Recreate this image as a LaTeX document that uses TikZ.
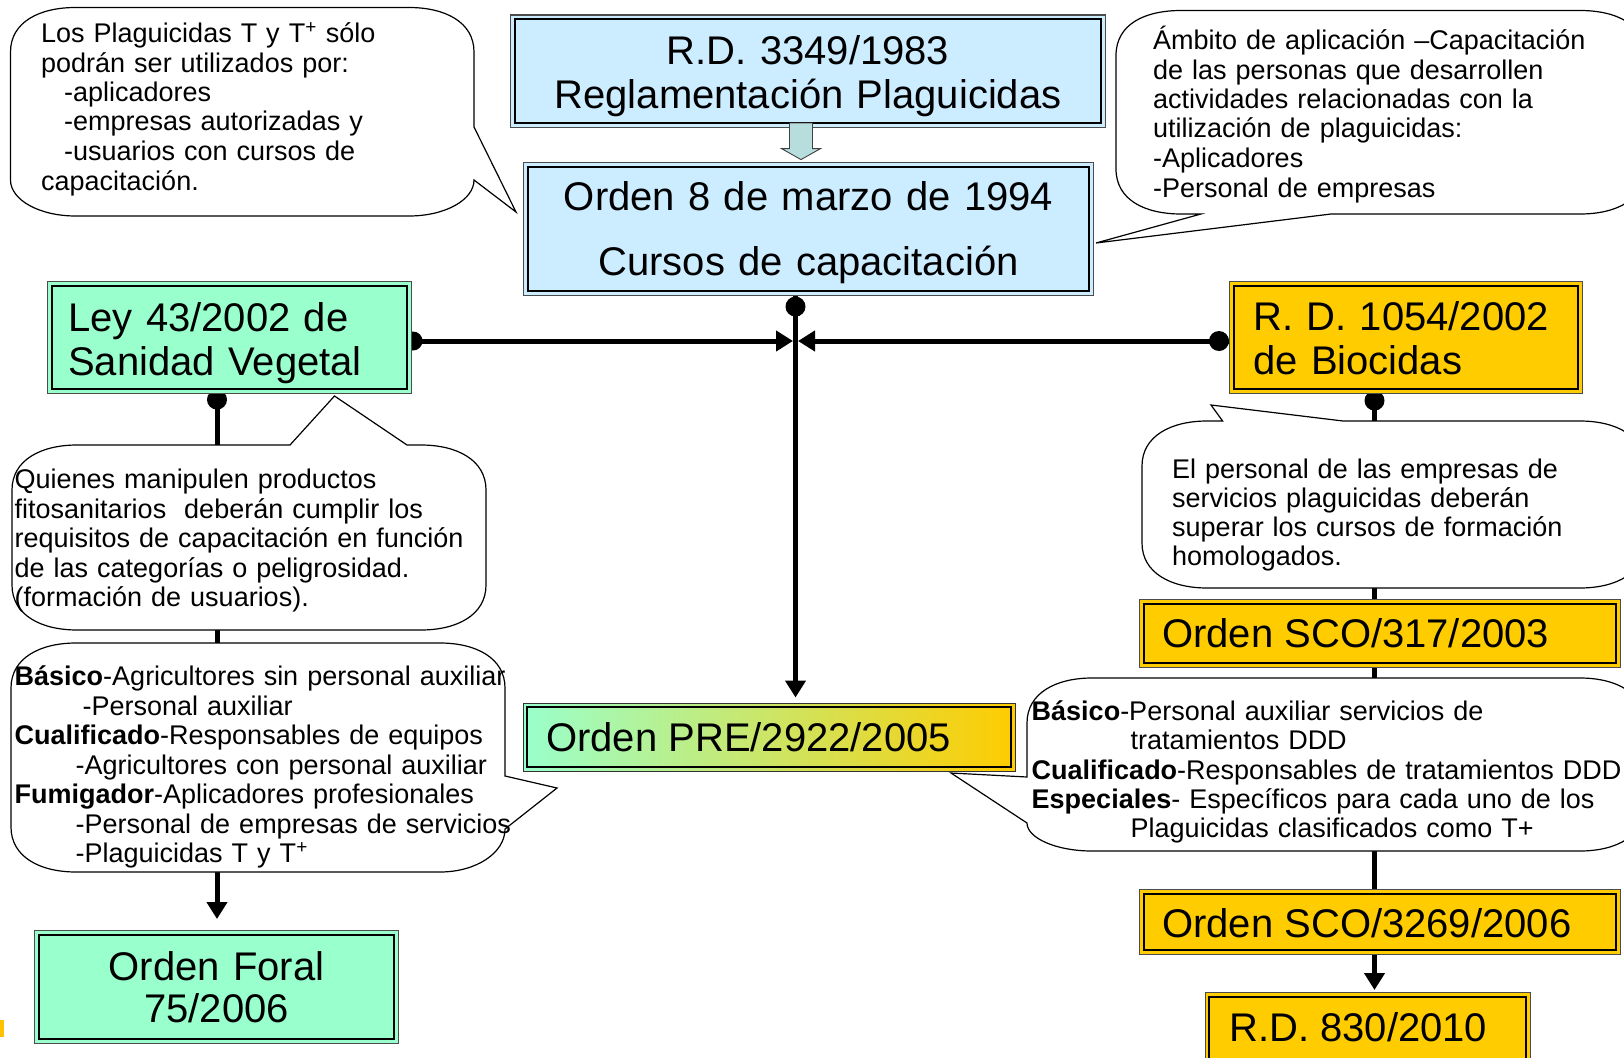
\documentclass[tikz,border=0pt]{standalone}
\usepackage{fontspec}
\setmainfont{Liberation Sans}
\usetikzlibrary{arrows.meta,calc}
\pgfdeclarelayer{bg}
\pgfsetlayers{bg,main}
\definecolor{lblue}{HTML}{CCECFF}
\definecolor{mint}{HTML}{99FFCC}
\definecolor{gold}{HTML}{FFCC00}
\definecolor{barrow}{RGB}{183,221,221}
\tikzset{
  innerline/.style={path picture={\draw[line width=2pt, black]
     ($(path picture bounding box.north west)+(4,4)$) rectangle
     ($(path picture bounding box.south east)+(-4,-4)$);}},
  box/.style={rectangle, draw=black!70, line width=1.2pt, fill=#1, inner sep=0pt, innerline},
  prebox/.style={rectangle, draw=black!80, line width=1.2pt, left color=mint, right color=gold, inner sep=0pt, innerline},
  conn/.style={line width=5pt, black},
  tip/.style={-{Triangle[width=20pt,length=17pt]}},
  callout/.style={draw=black, line width=1.2pt, fill=white},
  ctext/.style={font=\fontsize{27}{29.5}\selectfont, align=left, text width=620pt, inner sep=0pt, anchor=base west},
  btext/.style={font=\fontsize{40}{44}\selectfont, inner sep=0pt},
  blockarrow/.style={fill=barrow, draw=black!75, line width=0.9pt, line join=miter}
}
\begin{document}
\begin{tikzpicture}[x=1pt,y=-1pt]
\useasboundingbox (0,0) rectangle (1624,1057);
\begin{scope}
\clip (0,0) rectangle (1624,1057);

% ---------- boxes ----------
\node[box=lblue, minimum width=594.8pt, minimum height=112.3pt] (rd) at (808,71.25) {};
\node[box=lblue, minimum width=569.8pt, minimum height=132.8pt] (o94) at (808.5,229) {};
\node[box=mint, minimum width=363.8pt, minimum height=111.8pt] (ley) at (229.5,337.5) {};
\node[box=gold, minimum width=352.8pt, minimum height=111.8pt] (rdb) at (1406,337.5) {};
\node[box=mint, minimum width=363.8pt, minimum height=112.8pt] (foral) at (216.5,987) {};
\node[prebox, minimum width=492.3pt, minimum height=68.3pt] (pre) at (769.25,737.25) {};
\node[box=gold, minimum width=480.8pt, minimum height=67.8pt] (sco1) at (1380,633.5) {};
\node[box=gold, minimum width=480.8pt, minimum height=64.8pt] (sco2) at (1380,922) {};
\node[box=gold, minimum width=325.3pt, minimum height=86.8pt] (rd830) at (1367.75,1036) {};

% ---------- box texts ----------
\node[btext, align=center, text width=590pt, anchor=base] (rd-t) at (808,64.5) {R.D. 3349/1983\\Reglamentación Plaguicidas};
\node[btext, font=\fontsize{40}{65}\selectfont, align=center, text width=565pt, anchor=base] (o94-t) at (808.5,210) {Orden 8 de marzo de 1994\\Cursos de capacitación};
\node[btext, align=left, text width=330pt, anchor=base west] (ley-t) at (68,331) {Ley 43/2002 de\\Sanidad Vegetal};
\node[btext, align=left, text width=330pt, anchor=base west] (rdb-t) at (1253,330) {R. D. 1054/2002\\de Biocidas};
\node[btext, font=\fontsize{40}{42}\selectfont, align=center, text width=359pt, anchor=base] (foral-t) at (216.5,980) {Orden Foral\\75/2006};
\node[btext, anchor=base west] (pre-t) at (546,751) {Orden PRE/2922/2005};
\node[btext, anchor=base west] (sco1-t) at (1162,647) {Orden SCO/317/2003};
\node[btext, anchor=base west] (sco2-t) at (1162,937) {Orden SCO/3269/2006};
\node[btext, anchor=base west] (rd830-t) at (1229,1041) {R.D. 830/2010};

% ---------- block arrow ----------
\draw[blockarrow] ($(rd.south)+(-18.5,-5)$) -- ++(23,0) -- ++(0,25.6) -- ++(8,0) -- ++(-19.5,11) -- ++(-19.5,-11) -- ++(8,0) -- cycle;

% ---------- callouts ----------
% A top-left
\draw[callout] (75.5,7.5) -- (409,7.5) .. controls (445,7.5) and (474,22) .. (474,52) -- (474,127) -- (516,212) -- (474,180) .. controls (474,200) and (445,216) .. (409,216) -- (75.5,216) .. controls (39.5,216) and (10.5,200) .. (10.5,180) -- (10.5,52) .. controls (10.5,22) and (39.5,7.5) .. (75.5,7.5) -- cycle;
\node[ctext] (ta) at (41,42.5) {Los Plaguicidas T y T\textsuperscript{+} sólo\\
podrán ser utilizados por:\\
\hspace*{23pt}-aplicadores\\
\hspace*{23pt}-empresas autorizadas y\\
\hspace*{23pt}-usuarios con cursos de\\
capacitación.};

% B top-right
\draw[callout] (1181,10.5) -- (1580,10.5) .. controls (1616,10.5) and (1645,24) .. (1645,55.5) -- (1645,169) .. controls (1645,200) and (1616,214) .. (1580,214) -- (1331,214) -- (1096,243) -- (1201,214) -- (1181,214) .. controls (1145,214) and (1116,200) .. (1116,169) -- (1116,55.5) .. controls (1116,24) and (1145,10.5) .. (1181,10.5) -- cycle;
\node[ctext] (tb) at (1153,49.5) {Ámbito de aplicación –Capacitación\\
de las personas que desarrollen\\
actividades relacionadas con la\\
utilización de plaguicidas:\\
-Aplicadores\\
-Personal de empresas};

% C ley callout
\draw[callout] (77,445) -- (290,445) -- (334.5,396) -- (407,445) -- (421,445) .. controls (457,445) and (486,460) .. (486,490) -- (486,585) .. controls (486,615) and (457,630) .. (421,630) -- (77,630) .. controls (41,630) and (12,615) .. (12,585) -- (12,490) .. controls (12,460) and (41,445) .. (77,445) -- cycle;
\node[ctext] (tc) at (14.5,488.5) {Quienes manipulen productos\\
fitosanitarios\ \ deberán cumplir los\\
requisitos de capacitación en función\\
de las categorías o peligrosidad.\\
(formación de usuarios).};

% D categories left
\draw[callout] (76,643) -- (440,643) .. controls (476,643) and (505,658) .. (505,688) -- (505,776) -- (557,788) -- (505,829) .. controls (505,853) and (476,872) .. (440,872) -- (76,872) .. controls (40,872) and (11,857) .. (11,827) -- (11,688) .. controls (11,658) and (40,643) .. (76,643) -- cycle;
\node[ctext] (td) at (14.5,685.5) {\textbf{Básico}-Agricultores sin personal auxiliar\\
\hspace*{68pt}-Personal auxiliar\\
\textbf{Cualificado}-Responsables de equipos\\
\hspace*{61pt}-Agricultores con personal auxiliar\\
\textbf{Fumigador}-Aplicadores profesionales\\
\hspace*{61pt}-Personal de empresas de servicios\\
\hspace*{61pt}-Plaguicidas T y T\textsuperscript{+}};

% E biocidas
\draw[callout] (1207,421) -- (1222.6,421) -- (1211,405) -- (1343,421) -- (1580,421) .. controls (1616,421) and (1645,436) .. (1645,466) -- (1645,543) .. controls (1645,573) and (1616,588) .. (1580,588) -- (1207,588) .. controls (1171,588) and (1142,573) .. (1142,543) -- (1142,466) .. controls (1142,436) and (1171,421) .. (1207,421) -- cycle;
\node[ctext, font=\fontsize{27}{29.3}\selectfont] (te) at (1172,478) {El personal de las empresas de\\
servicios plaguicidas deberán\\
superar los cursos de formación\\
homologados.};

% F DDD
\draw[callout] (1092,678) -- (1580,678) .. controls (1616,678) and (1645,693) .. (1645,723) -- (1645,806) .. controls (1645,836) and (1616,851) .. (1580,851) -- (1092,851) .. controls (1056,851) and (1027,838) .. (1027,823) -- (951,773) -- (1027,777) -- (1027,723) .. controls (1027,693) and (1056,678) .. (1092,678) -- cycle;
\node[ctext, font=\fontsize{27}{29.3}\selectfont] (tf) at (1031.5,720.5) {\textbf{Básico}-Personal auxiliar servicios de\\
\hspace*{99pt}tratamientos DDD\\
\textbf{Cualificado}-Responsables de tratamientos DDD\\
\textbf{Especiales}- Específicos para cada uno de los\\
\hspace*{99pt}Plaguicidas clasificados como T+};

% small fragment at bottom-left edge
\fill[gold!85!orange] (0,1020) rectangle (3.5,1037);
\end{scope}

% ---------- connectors (behind) ----------
\coordinate (jx) at (795.5,341);
\coordinate (lx) at (217,0);
\coordinate (rx) at (1374.5,0);
\begin{pgfonlayer}{bg}
\draw[conn, tip] (o94.south -| jx) -- ($(pre.north -| jx)+(0,-5)$);
\fill ($(o94.south -| jx)+(0,10.6)$) circle[radius=10];
\draw[conn, tip] (ley.east |- jx) -- ($(jx)+(-2.5,0)$);
\fill ($(ley.east |- jx)+(1,0)$) circle[radius=9.5];
\draw[conn, tip] (rdb.west |- jx) -- ($(jx)+(2.5,0)$);
\fill ($(rdb.west |- jx)+(-10,0)$) circle[radius=10];
\draw[conn, tip] (ley.south -| lx) -- ($(foral.north -| lx)+(0,-11)$);
\fill ($(ley.south -| lx)+(0,5.6)$) circle[radius=10];
\draw[conn] (rdb.south -| rx) -- (sco2.north -| rx);
\fill ($(rdb.south -| rx)+(0,6.6)$) circle[radius=10];
\draw[conn, tip] (sco2.south -| rx) -- ($(rd830.north -| rx)+(0,-2)$);
\end{pgfonlayer}
\end{tikzpicture}
\end{document}
